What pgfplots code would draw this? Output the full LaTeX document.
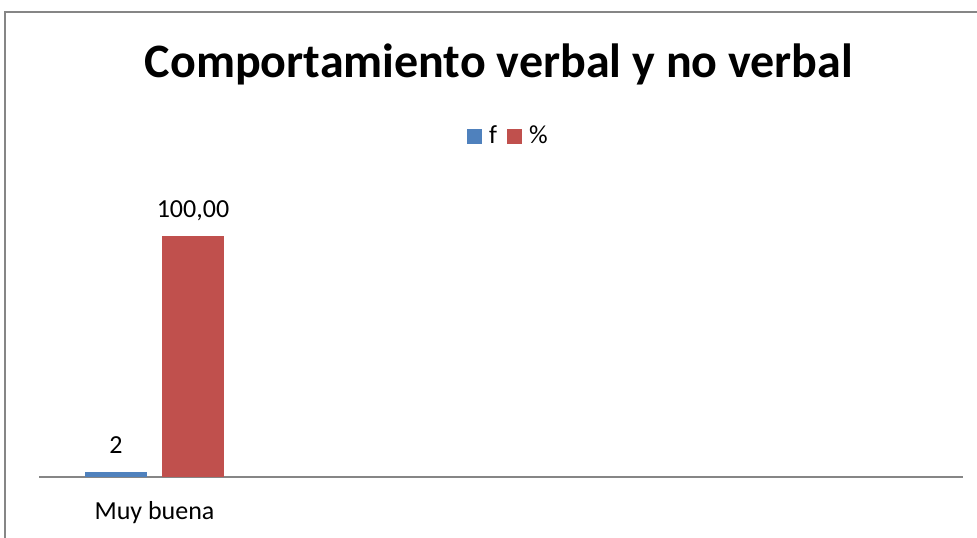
\documentclass[border=0pt]{standalone}
\usepackage{fontspec}
\setmainfont{Carlito}
\usepackage{pgfplots}
\pgfplotsset{compat=1.18}
\definecolor{xlblue}{HTML}{4F81BD}
\definecolor{xlred}{HTML}{C0504D}
\definecolor{xlgray}{HTML}{868686}
\begin{document}
\begin{tikzpicture}
\useasboundingbox (0,0) rectangle (488.5pt,268.5pt);
\fill[white] (0,0) rectangle (488.5pt,268.5pt);
\draw[xlgray,line width=0.75pt] (2.5pt,-20pt) -- (2.5pt,262.5pt) -- (520pt,262.5pt);
\node[font=\fontsize{24}{28}\selectfont\bfseries,anchor=base] at (249.5pt,230pt) {Comportamiento verbal y no verbal};
\begin{axis}[
  at={(19.5pt,30pt)}, anchor=south west,
  scale only axis, width=462pt, height=144.6pt,
  xmin=-0.5, xmax=3.5, ymin=0, ymax=120,
  axis y line=none,
  axis x line*=bottom,
  x axis line style={-, xlgray, line width=0.75pt},
  xtick={0,1,2,3}, xticklabels={Muy buena,,,},
  major tick length=0pt,
  xticklabel style={font=\fontsize{13}{15}\selectfont, anchor=base, yshift=-21pt},
  ybar, bar width=31pt,
  nodes near coords,
  point meta=explicit symbolic,
  nodes near coords style={font=\fontsize{13}{15}\selectfont, anchor=base, yshift=9.5pt},
  legend style={at={(axis description cs:0.509,1.178)}, anchor=center, draw=none, fill=none,
    legend columns=2, font=\fontsize{13}{15}\selectfont,
    /tikz/every odd column/.append style={column sep=1.5pt},
    /tikz/every even column/.append style={column sep=3pt}},
  legend image code/.code={\fill[#1] (0pt,-3.75pt) rectangle (7.5pt,3.75pt);},
]
\addplot[fill=xlblue, draw=none, bar shift=-19.25pt] coordinates {(0,2) [2]};
\addplot[fill=xlred, draw=none, bar shift=19.25pt] coordinates {(0,100) [{100,00}]};
\legend{f,\%}
\end{axis}
\end{tikzpicture}
\end{document}
